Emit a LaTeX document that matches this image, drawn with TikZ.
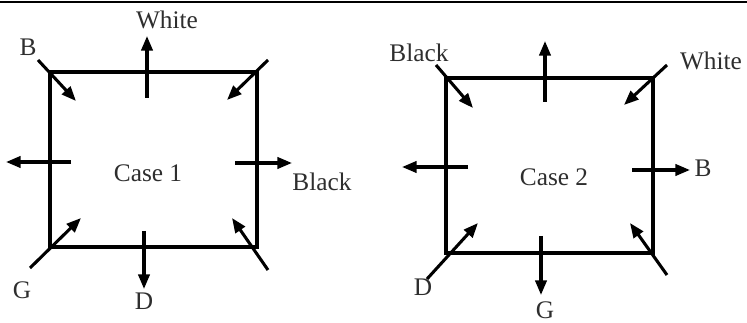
\documentclass[tikz,border=0pt]{standalone}
\usepackage{fontspec}
\setmainfont{Liberation Serif}
\usetikzlibrary{arrows.meta}
\definecolor{txt}{HTML}{2E2E2E}
\begin{document}
\begin{tikzpicture}[x=0.75pt,y=-0.75pt,
  boxline/.style={line width=2.3pt,line join=miter},
  arr/.style={line width=2.3pt,-{Triangle[length=11pt,width=8.5pt]}},
  lbl/.style={text=txt,font=\fontsize{19}{21}\selectfont,inner sep=0pt}]
\useasboundingbox (0,0) rectangle (747,323);
\draw[line width=1.2pt] (0,2) -- (747,2);
% ---- Case 1 ----
\coordinate (a1) at (50,72); \coordinate (b1) at (257,72);
\coordinate (c1) at (257,247); \coordinate (d1) at (50,247);
\draw[boxline] (a1) -- (b1) -- (c1) -- (d1) -- cycle;
\coordinate (tl1s) at (38,60); \coordinate (tl1e) at (76,101);
\coordinate (tr1s) at (268,60); \coordinate (tr1e) at (227,100);
\coordinate (bl1s) at (30,268); \coordinate (bl1e) at (81,218);
\coordinate (br1s) at (268,270); \coordinate (br1e) at (232,218);
\coordinate (t1s) at (147,98); \coordinate (t1e) at (147,36);
\coordinate (l1s) at (71,162); \coordinate (l1e) at (6,162);
\coordinate (r1s) at (235,163); \coordinate (r1e) at (292,163);
\coordinate (m1s) at (144,231); \coordinate (m1e) at (144,289);
\foreach \p in {tl1,tr1,bl1,br1,t1,l1,r1,m1} \draw[arr] (\p s) -- (\p e);
\node[lbl] (w1) at (167,20) {White};
\node[lbl] (bb1) at (28,47) {B};
\node[lbl] (k1) at (322,182) {Black};
\node[lbl] (g1) at (22,290) {G};
\node[lbl] (dd1) at (144,301) {D};
\node[lbl] (cs1) at (148,173) {Case 1};
% ---- Case 2 ----
\coordinate (a2) at (446,78); \coordinate (b2) at (653,78);
\coordinate (c2) at (653,253); \coordinate (d2) at (446,253);
\draw[boxline] (a2) -- (b2) -- (c2) -- (d2) -- cycle;
\coordinate (tl2s) at (436,65); \coordinate (tl2e) at (473,108);
\coordinate (tr2s) at (667,65); \coordinate (tr2e) at (624,105);
\coordinate (bl2s) at (427,279); \coordinate (bl2e) at (478,223);
\coordinate (br2s) at (667,275); \coordinate (br2e) at (630,223);
\coordinate (t2s) at (545,102); \coordinate (t2e) at (545,41);
\coordinate (l2s) at (468,167); \coordinate (l2e) at (402,167);
\coordinate (r2s) at (632,170); \coordinate (r2e) at (690,170);
\coordinate (m2s) at (541,236); \coordinate (m2e) at (541,295);
\foreach \p in {tl2,tr2,bl2,br2,t2,l2,r2,m2} \draw[arr] (\p s) -- (\p e);
\node[lbl] (k2) at (419,53) {Black};
\node[lbl] (w2) at (711,61) {White};
\node[lbl] (bb2) at (703,168) {B};
\node[lbl] (dd2) at (423,287) {D};
\node[lbl] (g2) at (545,310) {G};
\node[lbl] (cs2) at (554,177) {Case 2};
\end{tikzpicture}
\end{document}
